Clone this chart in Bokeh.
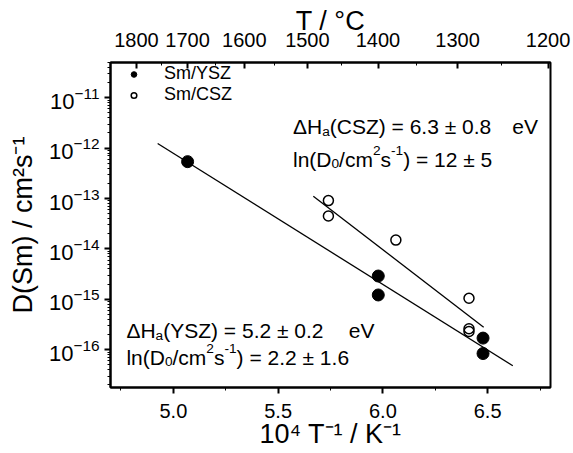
from bokeh.plotting import figure
from bokeh.models import (Range1d, LinearAxis, FixedTicker, CustomJSTickFormatter,
                          Label, Legend, LegendItem, NumeralTickFormatter, LogTickFormatter)
from bokeh.embed import file_html
from bokeh.resources import INLINE

# ---- data ----
ysz_x = [5.068, 5.978, 5.978, 6.478, 6.478]
ysz_D = [5.4e-13, 2.9e-15, 1.22e-15, 1.7e-16, 8.4e-17]
csz_x = [5.74, 5.74, 6.062, 6.411, 6.411, 6.411]
csz_D = [9.1e-14, 4.5e-14, 1.5e-14, 1.05e-15, 2.6e-16, 2.3e-16]

fit_ysz_x = [4.925, 6.62]
fit_ysz_D = [1.24e-12, 4.8e-17]
fit_csz_x = [5.668, 6.481]
fit_csz_D = [1.11e-13, 2.8e-16]

y_ticks = [1e-16, 1e-15, 1e-14, 1e-13, 1e-12, 1e-11]
x_ticks = [5.0, 5.5, 6.0, 6.5]
x_minor = [4.75, 5.25, 5.75, 6.25, 6.75]
top_temps_C = [1800, 1700, 1600, 1500, 1400, 1300, 1200]
top_minor_C = [1750, 1650, 1550, 1450, 1350, 1250]

FONT = "Liberation Sans"
TICK_FS = "20px"
TITLE_FS = "27px"

p = figure(width=573, height=453,
           x_range=Range1d(4.70, 6.80),
           y_range=Range1d(10 ** -16.75, 10 ** -10.30),
           y_axis_type="log",
           output_backend="svg", toolbar_location=None,
           min_border_left=110, min_border_right=23,
           min_border_top=62, min_border_bottom=66)
p.grid.visible = False
p.outline_line_color = "black"
p.outline_line_width = 2
p.background_fill_color = "white"
p.border_fill_color = "white"

# bottom axis
xa = p.xaxis[0]
xa.ticker = FixedTicker(ticks=x_ticks, minor_ticks=x_minor)
xa.formatter = NumeralTickFormatter(format="0.0")
xa.axis_label = "10\u2074 T\u207b\u00b9 / K\u207b\u00b9"

# left axis
ya = p.yaxis[0]
minor = []
for e in range(-17, -10):
    for m in range(2, 10):
        minor.append(m * 10.0 ** e)
ya.ticker = FixedTicker(ticks=y_ticks, minor_ticks=minor)
ya.formatter = LogTickFormatter()
ya.axis_label = "D(Sm) / cm\u00b2s\u207b\u00b9"

for ax in (xa, ya):
    ax.axis_line_width = 2
    ax.major_tick_in = 0
    ax.major_tick_out = 6
    ax.minor_tick_in = 0
    ax.minor_tick_out = 3
    ax.major_tick_line_width = 2
    ax.major_label_text_font = FONT
    ax.major_label_text_font_size = TICK_FS
    ax.major_label_text_color = "black"
    ax.axis_label_text_font = FONT
    ax.axis_label_text_font_style = "normal"
    ax.axis_label_text_font_size = TITLE_FS
    ax.axis_label_text_color = "black"

ya.major_label_text_font_size = "22px"
xa.major_label_standoff = 10
xa.axis_label_standoff = -2
ya.major_label_standoff = 5
ya.axis_label_standoff = 8

# top axis (temperature in Celsius)
top = LinearAxis(
    ticker=FixedTicker(ticks=[1e4 / (t + 273.15) for t in top_temps_C],
                       minor_ticks=[1e4 / (t + 273.15) for t in top_minor_C]),
    formatter=CustomJSTickFormatter(
        code="return String(Math.round((1e4 / tick - 273.15) / 100) * 100);"),
    axis_label="T / \u00b0C")
top.axis_line_width = 2
top.major_tick_in = 6
top.major_tick_out = 0
top.minor_tick_in = 3
top.minor_tick_out = 0
top.major_tick_line_width = 2
top.major_label_standoff = 16
top.axis_label_standoff = -6
top.major_label_text_font = FONT
top.major_label_text_font_size = TICK_FS
top.major_label_text_color = "black"
top.axis_label_text_font = FONT
top.axis_label_text_font_style = "normal"
top.axis_label_text_font_size = TITLE_FS
top.axis_label_text_color = "black"
p.add_layout(top, "above")

# fit lines
p.line(fit_ysz_x, fit_ysz_D, line_color="black", line_width=1.3)
p.line(fit_csz_x, fit_csz_D, line_color="black", line_width=1.3)

# points
r_ysz = p.scatter(ysz_x, ysz_D, marker="circle", size=12,
                  fill_color="black", line_color="black")
r_csz = p.scatter(csz_x, csz_D, marker="circle", size=10,
                  fill_color=None, line_color="black", line_width=1.5)

legend = Legend(items=[LegendItem(label="Sm/YSZ", renderers=[r_ysz]),
                       LegendItem(label="Sm/CSZ", renderers=[r_csz])],
                location="top_left", margin=0, padding=1,
                glyph_width=45, glyph_height=14, label_height=14,
                label_standoff=8, spacing=0,
                background_fill_alpha=0, border_line_alpha=0,
                label_text_font=FONT, label_text_font_size="18px",
                label_text_color="black")
p.add_layout(legend)

# ---- annotations with real sub/superscripts (Arial / Liberation Sans advance widths) ----
ADV = {" ": 278, "\u0394": 668, "H": 722, "a": 556, "(": 333, ")": 333, "C": 722,
       "S": 667, "Z": 611, "Y": 667, "=": 584, ".": 278, "\u00b1": 549, "e": 556,
       "V": 667, "l": 222, "n": 556, "D": 722, "/": 278, "c": 500, "m": 833,
       "s": 500, "-": 333, "\u2212": 584}


def text_width(s, size):
    return sum(ADV.get(ch, 556) for ch in s) * size / 1000.0


def rich_label(x, y, parts, fs):
    off = 0.0
    for txt, kind in parts:
        if kind == "gap":
            off += txt * fs
            continue
        size = fs if kind == "b" else 0.65 * fs
        dy = {"b": 0.0, "sub": -0.22 * fs, "sup": 0.40 * fs}[kind]
        p.add_layout(Label(x=x, y=y, x_offset=off, y_offset=dy, text=txt,
                           text_font=FONT, text_font_size=f"{size:.1f}px",
                           text_baseline="alphabetic", text_align="left",
                           text_color="black"))
        off += text_width(txt, size)


ANN_FS = 21
rich_label(5.571, 10 ** -11.58, [("\u0394H", "b"), ("a", "sub"),
                                  ("(CSZ) = 6.3 \u00b1 0.8", "b"), (1.0, "gap"),
                                  ("eV", "b")], ANN_FS)
rich_label(5.571, 10 ** -12.22, [("ln(D", "b"), ("0", "sub"), ("/cm", "b"),
                                  ("2", "sup"), ("s", "b"), ("-1", "sup"),
                                  (") = 12 \u00b1 5", "b")], ANN_FS)
rich_label(4.776, 10 ** -15.62, [("\u0394H", "b"), ("a", "sub"),
                                  ("(YSZ) = 5.2 \u00b1 0.2", "b"), (1.2, "gap"),
                                  ("eV", "b")], ANN_FS)
rich_label(4.776, 10 ** -16.15, [("ln(D", "b"), ("0", "sub"), ("/cm", "b"),
                                  ("2", "sup"), ("s", "b"), ("-1", "sup"),
                                  (") = 2.2 \u00b1 1.6", "b")], ANN_FS)

open("out.html", "w").write(file_html(p, INLINE))
